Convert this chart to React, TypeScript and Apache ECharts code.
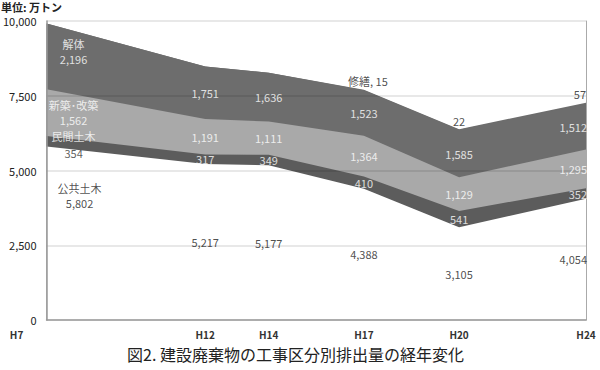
import React, { useEffect, useRef } from "react";
import * as echarts from "echarts";

const years = [7, 12, 14, 17, 20, 24];
const yearLabels = ["H7", "H12", "H14", "H17", "H20", "H24"];
const seriesNames = ["公共土木", "民間土木", "新築･改築", "解体", "修繕"];
const publicCivil = [5802, 5217, 5177, 4388, 3105, 4054];
const privateCivil = [354, 317, 349, 410, 541, 352];
const newBuild = [1562, 1191, 1111, 1364, 1129, 1295];
const demolition = [2196, 1751, 1636, 1523, 1585, 1512];
const repair = [0, 0, 0, 15, 22, 57];
const yTicks = [0, 2500, 5000, 7500, 10000];

const allSeries = [publicCivil, privateCivil, newBuild, demolition, repair];
const areaColors = ["#ffffff", "#5c5c5c", "#a9a9a9", "#6d6d6d", "#6d6d6d"];
const labelColors = ["#222", "#fff", "#fff", "#fff", "#222"];
const firstLabelOffsets = [[33, -38], [27, 3], [27, 0], [27, -5]];
const firstLabelLineHeights = [15, 17, 15, 15];

const fmt = (v: number) => v.toLocaleString("en-US");
const FONT = "'Noto Sans CJK JP', 'Noto Sans', sans-serif";

const cumulative = (i: number, j: number) => {
  let s = 0;
  for (let k = 0; k <= i; k++) s += allSeries[k][j];
  return s;
};

export default function App() {
  const ref = useRef<HTMLDivElement>(null);
  useEffect(() => {
    if (!ref.current) return;
    const chart = echarts.init(ref.current, null, { renderer: "svg" });

    // Cumulative bands drawn from the top down so each lower band covers the one above it
    const areaSeries = allSeries
      .map((_, i) => ({
        name: seriesNames[i],
        type: "line",
        symbol: "none",
        lineStyle: { width: 0 },
        areaStyle: { color: areaColors[i], opacity: 1, origin: "start" },
        data: years.map((x, j) => [x, cumulative(i, j)]),
        z: 2,
      }))
      .reverse();

    const labelSeries: any[] = [];
    for (let i = 0; i < 4; i++) {
      const data = allSeries[i].map((v, j) => {
        const base = i > 0 ? cumulative(i - 1, j) : 0;
        const item: any = { value: [years[j], base + v / 2] };
        if (j === 0) {
          const lh = firstLabelLineHeights[i];
          item.label = {
            formatter: `{n|${seriesNames[i]}}\n{v|${fmt(v)}}`,
            offset: firstLabelOffsets[i],
            rich: {
              n: { color: labelColors[i], fontSize: 11, lineHeight: lh, fontFamily: FONT },
              v: { color: i === 1 ? "#333" : labelColors[i], fontSize: 11, lineHeight: lh, fontFamily: FONT },
            },
          };
        } else if (j === years.length - 1) {
          item.label = { align: "right", offset: [1, 0] };
        }
        return item;
      });
      labelSeries.push({
        type: "scatter",
        symbolSize: 0,
        silent: true,
        clip: false,
        z: 6,
        data,
        label: {
          show: true,
          position: "inside",
          color: labelColors[i],
          fontSize: 11,
          fontFamily: FONT,
          formatter: (p: any) => fmt(allSeries[i][p.dataIndex]),
        },
      });
    }
    const repairData: any[] = [];
    repair.forEach((v, j) => {
      if (v <= 0) return;
      const first = repairData.length === 0;
      repairData.push({
        value: [years[j], cumulative(4, j)],
        label: {
          formatter: first ? `${seriesNames[4]}, ${fmt(v)}` : fmt(v),
          align: j === years.length - 1 ? "right" : "center",
          offset: j === years.length - 1 ? [0, 0] : first ? [4, 0] : [0, 0],
        },
      });
    });
    labelSeries.push({
      type: "scatter",
      symbolSize: 0,
      silent: true,
      clip: false,
      z: 6,
      data: repairData,
      label: {
        show: true,
        position: "top",
        distance: 3,
        color: labelColors[4],
        fontSize: 11,
        fontFamily: FONT,
      },
    });

    chart.setOption({
      animation: false,
      backgroundColor: "#fff",
      textStyle: { fontFamily: FONT },
      grid: { left: 45, right: 14, top: 21, bottom: 50, containLabel: false },
      xAxis: {
        type: "value",
        min: years[0],
        max: years[years.length - 1],
        z: 4,
        axisLine: { show: true, lineStyle: { color: "#999", width: 1.5 } },
        axisTick: { show: false },
        splitLine: { show: false },
        axisLabel: {
          customValues: years,
          margin: 9,
          fontSize: 10,
          fontWeight: "bold",
          color: "#333",
          formatter: (v: number) => {
            const idx = years.indexOf(v);
            const t = idx >= 0 ? yearLabels[idx] : "";
            return idx === 0 ? `{a|${t}}` : t;
          },
          rich: { a: { padding: [0, 60, 0, 0], fontSize: 10, fontWeight: "bold", color: "#333" } },
        },
      },
      yAxis: [
        {
          type: "value",
          min: yTicks[0],
          max: yTicks[yTicks.length - 1],
          interval: yTicks[1] - yTicks[0],
          z: 4,
          axisLine: { show: true, lineStyle: { color: "#999", width: 1.5 } },
          axisTick: { show: false },
          splitLine: { show: true, lineStyle: { color: "rgba(0,0,0,0.12)", width: 1.5 } },
          axisLabel: { fontSize: 11, lineHeight: 12, color: "#222", margin: 10, formatter: (v: number) => fmt(v) },
        },
        {
          type: "value",
          position: "right",
          min: 0,
          max: 10000,
          z: 4,
          axisLine: { show: true, lineStyle: { color: "#aaa", width: 1 } },
          axisTick: { show: false },
          axisLabel: { show: false },
          splitLine: { show: false },
        },
      ],
      graphic: [
        {
          type: "text",
          left: 1,
          top: 1,
          z: 10,
          style: { text: "単位: 万トン", fontSize: 11, lineHeight: 11, fontWeight: "bold", fill: "#222", fontFamily: FONT },
        },
        {
          type: "text",
          left: 127,
          top: 346,
          z: 10,
          style: { text: "図2. 建設廃棄物の工事区分別排出量の経年変化", fontSize: 16, fill: "#222", fontFamily: FONT },
        },
      ],
      series: [...areaSeries, ...labelSeries],
    });
    return () => chart.dispose();
  }, []);
  return <div ref={ref} style={{ position: "fixed", left: 0, top: 0, width: 600, height: 370 }} />;
}
